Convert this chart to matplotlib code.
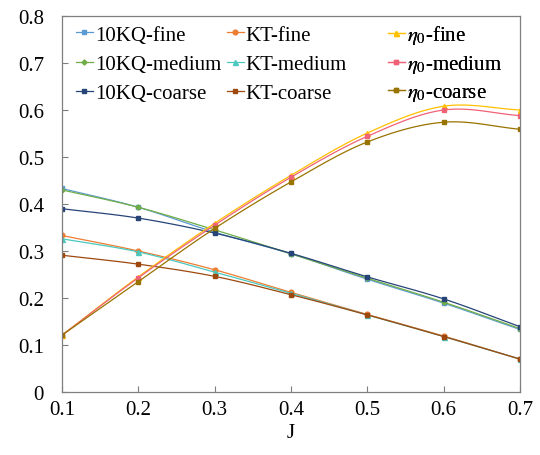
import numpy as np
import matplotlib.pyplot as plt
from matplotlib.lines import Line2D

plt.rcParams["font.family"] = ["Liberation Serif", "DejaVu Serif"]
plt.rcParams["mathtext.fontset"] = "stix"

J = [0.1, 0.2, 0.3, 0.4, 0.5, 0.6, 0.7]

kq_fine = [0.433, 0.393, 0.340, 0.294, 0.240, 0.189, 0.133]
kq_medium = [0.430, 0.393, 0.345, 0.294, 0.242, 0.191, 0.135]
kq_coarse = [0.390, 0.370, 0.338, 0.295, 0.245, 0.198, 0.139]
kt_fine = [0.333, 0.300, 0.260, 0.212, 0.165, 0.119, 0.070]
kt_medium = [0.326, 0.298, 0.255, 0.210, 0.164, 0.118, 0.070]
kt_coarse = [0.291, 0.272, 0.246, 0.207, 0.164, 0.118, 0.070]
eta_fine = [0.121, 0.245, 0.359, 0.461, 0.551, 0.608, 0.600]
eta_medium = [0.121, 0.243, 0.355, 0.457, 0.544, 0.600, 0.588]
eta_coarse = [0.121, 0.235, 0.348, 0.447, 0.532, 0.574, 0.559]

# one group per legend column
groups = [
    (["10KQ-fine", "10KQ-medium", "10KQ-coarse"],
     [kq_fine, kq_medium, kq_coarse],
     ["#5B9BD5", "#70AD47", "#264478"], ["s", "D", "s"]),
    (["KT-fine", "KT-medium", "KT-coarse"],
     [kt_fine, kt_medium, kt_coarse],
     ["#ED7D31", "#4BC8C0", "#9E480E"], ["o", "^", "s"]),
    ([r"$\eta_0$-fine", r"$\eta_0$-medium", r"$\eta_0$-coarse"],
     [eta_fine, eta_medium, eta_coarse],
     ["#FFC000", "#F06277", "#997300"], ["^", "s", "s"]),
]
marker_size = {"s": 3.2, "o": 3.4, "^": 3.6, "D": 2.6}


def smooth(x, y, n=20):
    # Catmull-Rom style curve through the points (like a smoothed scatter line)
    x = np.asarray(x, float)
    y = np.asarray(y, float)
    px = np.concatenate([[2 * x[0] - x[1]], x, [2 * x[-1] - x[-2]]])
    py = np.concatenate([[2 * y[0] - y[1]], y, [2 * y[-1] - y[-2]]])
    t = np.linspace(0, 1, n)
    xs, ys = [], []
    for i in range(1, len(px) - 2):
        for p, out in ((px, xs), (py, ys)):
            p0, p1, p2, p3 = p[i - 1], p[i], p[i + 1], p[i + 2]
            c1 = p1 + (p2 - p0) / 6
            c2 = p2 - (p3 - p1) / 6
            out.extend((1 - t) ** 3 * p1 + 3 * (1 - t) ** 2 * t * c1
                       + 3 * (1 - t) * t ** 2 * c2 + t ** 3 * p2)
    return np.array(xs), np.array(ys)


fig = plt.figure(figsize=(5.4, 4.56), dpi=100)
ax = fig.add_axes([62 / 540, 1 - 393 / 456, 458 / 540, 376 / 456])

FS = 15
legend_x = [76, 227, 388]
legend_top = [26, 26, 24]
legend_sp = [0.47, 0.47, 0.35]
for (labs, data, cols, mks), lx, ly, sp in zip(groups, legend_x, legend_top, legend_sp):
    handles = []
    for lab, ys, c, m in zip(labs, data, cols, mks):
        sx, sy = smooth(J, ys)
        ax.plot(sx, sy, color=c, lw=0.9)
        ax.plot(J, ys, ls="none", marker=m, color=c, ms=marker_size[m])
        handles.append(Line2D([], [], color=c, lw=0.9, marker=m,
                              ms=marker_size[m], label=lab))
    leg = ax.legend(handles=handles, loc="upper left",
                    bbox_to_anchor=(lx / 540, 1 - ly / 456),
                    bbox_transform=fig.transFigure, frameon=False,
                    fontsize=FS, handlelength=0.8, handletextpad=0.1,
                    labelspacing=sp, borderpad=0, borderaxespad=0)
    ax.add_artist(leg)

ax.set_xlim(0.1, 0.7)
ax.set_ylim(0, 0.8)
ax.set_xticks(np.arange(0.1, 0.71, 0.1))
ax.set_xticklabels(["0.1", "0.2", "0.3", "0.4", "0.5", "0.6", "0.7"])
ax.set_yticks(np.arange(0, 0.81, 0.1))
ax.set_yticklabels(["0", "0.1", "0.2", "0.3", "0.4", "0.5", "0.6", "0.7", "0.8"])
ax.tick_params(direction="in", length=4, width=0.8, color="#7f7f7f",
               labelsize=FS)
ax.tick_params(axis="y", pad=13)
ax.tick_params(axis="x", pad=6)
for s in ax.spines.values():
    s.set_color("#7f7f7f")
    s.set_linewidth(0.9)
ax.set_xlabel("J", fontsize=FS, labelpad=3)

fig.savefig("out.png", dpi=100)
